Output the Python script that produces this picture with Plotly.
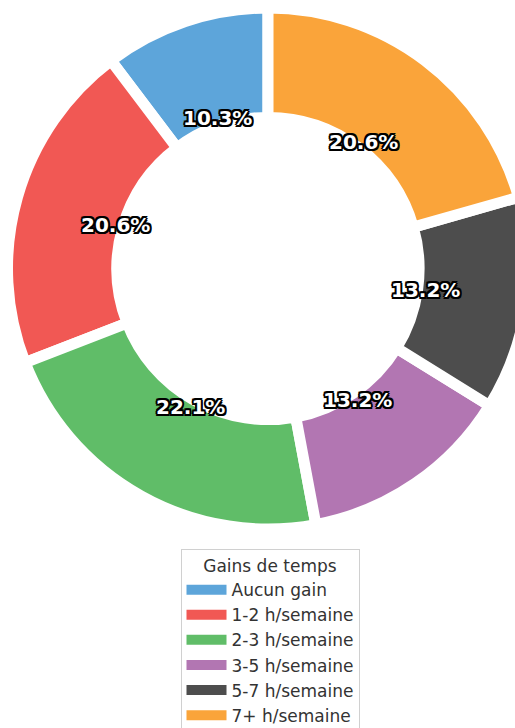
import numpy as np
import plotly.graph_objects as go

categories = ["Aucun gain", "1-2 h/semaine", "2-3 h/semaine", "3-5 h/semaine", "5-7 h/semaine", "7+ h/semaine"]
counts = [7, 14, 15, 9, 9, 14]
colors = ["#5DA5DA", "#F15854", "#60BD68", "#B276B2", "#4D4D4D", "#FAA43A"]
legend_title = "Gains de temps"

# style
HOLE = 0.58
PCT_DIST = 0.61          # radial position of the percentage labels (fraction of radius)
W, H = 536, 748          # figure is wider than the window: the donut is cut on the right, as in the reference
dom_x = [7.5 / W, 528.5 / W]
dom_y = [1 - 529 / H, 1 - 8 / H]

total = sum(counts)
# first slice starts at 12 o'clock and runs counter-clockwise (matplotlib startangle=90)
start_rot = -360.0 * counts[0] / total

fig = go.Figure()
fig.add_trace(go.Pie(
    labels=categories, values=counts, sort=False, direction="counterclockwise", rotation=start_rot,
    hole=HOLE, domain=dict(x=dom_x, y=dom_y),
    marker=dict(colors=colors, line=dict(color="white", width=11)),
    textinfo="none", hoverinfo="label+percent", showlegend=False,
))

# legend entries (wide colour patches like the reference)
for cat, col in zip(categories, colors):
    fig.add_trace(go.Scatter(x=[None], y=[None], mode="lines", name=cat,
                             line=dict(color=col, width=14), hoverinfo="skip"))

# percentage labels, placed at PCT_DIST of the radius on each slice's mid-angle
counts_arr = np.array(counts, dtype=float)
before = np.concatenate([[0.0], np.cumsum(counts_arr)[:-1]])
mid_angle = np.deg2rad(90.0 + 360.0 * (before + counts_arr / 2) / total)
outline = ", ".join(f"{dx}px {dy}px 0 #000" for dx, dy in
                    [(-1.6, -1.6), (1.6, -1.6), (-1.6, 1.6), (1.6, 1.6), (0, 2), (0, -2), (2, 0), (-2, 0)])
for c, a in zip(counts_arr, mid_angle):
    fig.add_annotation(
        x=PCT_DIST * np.cos(a), y=PCT_DIST * np.sin(a), xref="x", yref="y",
        text=f"{100 * c / total:.1f}%", showarrow=False, xanchor="center", yanchor="middle",
        font=dict(family="DejaVu Sans", size=20, color="white", weight="bold", shadow=outline),
    )

fig.update_layout(
    width=W, height=H, margin=dict(l=0, r=0, t=0, b=0),
    paper_bgcolor="white", plot_bgcolor="rgba(0,0,0,0)",
    xaxis=dict(visible=False, domain=dom_x, range=[-1, 1]),
    yaxis=dict(visible=False, domain=dom_y, range=[-1, 1]),
    legend=dict(
        x=270 / W, xanchor="center", y=1 - 549 / H, yanchor="top",
        title=dict(text=legend_title, side="top center", font=dict(family="DejaVu Sans", size=17, color="#333333")),
        font=dict(family="DejaVu Sans", size=17, color="#333333"),
        bgcolor="white", bordercolor="#d0d0d0", borderwidth=1,
        traceorder="normal", itemwidth=40,
    ),
)
fig.write_html(
    "out.html",
    config={"displayModeBar": False},
    post_script="document.body.style.margin='0';document.documentElement.style.overflow='hidden';document.body.style.overflow='hidden';",
)
